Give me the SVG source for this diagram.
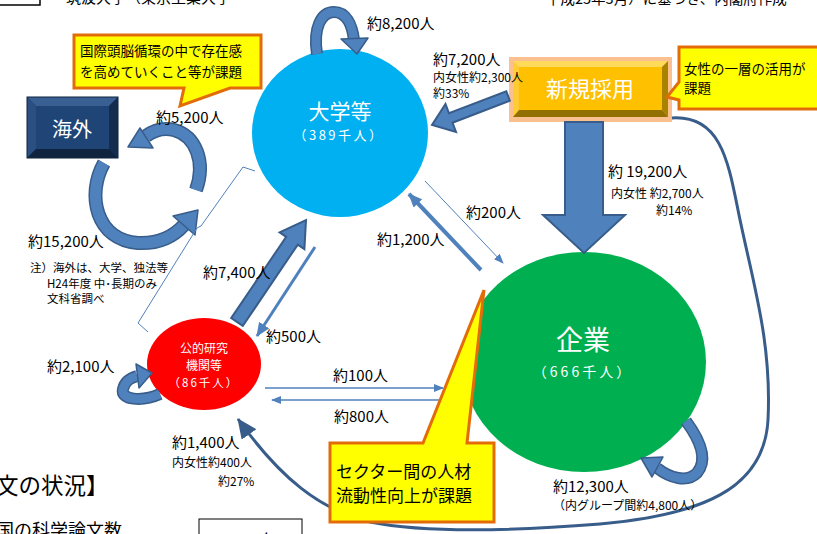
<svg xmlns="http://www.w3.org/2000/svg" width="817" height="534" viewBox="0 0 817 534">
<style>
text{font-family:"Noto Sans CJK JP","Noto Sans",sans-serif;fill:#000}
.lb{font-size:15px}
.sm{font-size:12px}
.nt{font-size:11.5px}
.w{fill:#fff}
.co{fill:#FFFF00;stroke:#E36C09;stroke-width:3}
.ct{font-size:13.5px}
.lo{fill:none;stroke:#385D8A;stroke-width:12}
.li{fill:none;stroke:#4F81BD;stroke-width:9}
.hd{fill:#4F81BD;stroke:#385D8A;stroke-width:1.5;stroke-linejoin:round}
.thin{fill:none;stroke:#4F81BD}
.big{fill:#4F81BD;stroke:#385D8A;stroke-width:2;stroke-linejoin:miter}
</style>
<defs>
<marker id="ahS" markerUnits="userSpaceOnUse" markerWidth="10" markerHeight="8" refX="9" refY="4" orient="auto"><path d="M0,0 L10,4 L0,8 z" fill="#4F81BD"/></marker>
<marker id="ahM" markerUnits="userSpaceOnUse" markerWidth="14" markerHeight="12" refX="13" refY="6" orient="auto"><path d="M0,0 L14,6 L0,12 z" fill="#4F81BD"/></marker>
<marker id="ahL" markerUnits="userSpaceOnUse" markerWidth="20" markerHeight="18" refX="19" refY="9" orient="auto"><path d="M0,0 L20,9 L0,18 z" fill="#385D8A"/></marker>
</defs>

<g id="fragments">
<rect x="-10" y="-20" width="50" height="25" fill="none" stroke="#000" stroke-width="1.5"/>
<text x="66" y="3" style="font-size:15px">筑波大学（東京工業大学</text>
<text x="546" y="4" style="font-size:14.5px">平成25年3月）に基づき、内閣府作成</text>
<text x="-4" y="494" style="font-size:22.5px">文の状況】</text>
<text x="-4" y="537" style="font-size:18px">国の科学論文数</text>
<rect x="199" y="519" width="103" height="40" fill="#fff" stroke="#000" stroke-width="1"/>
<text x="250" y="548" text-anchor="middle" style="font-size:18px">2010年</text>
</g>

<g id="node-univ">
<ellipse cx="340" cy="133" rx="88" ry="84" fill="#00B0F0"/>
<text x="340" y="119" text-anchor="middle" class="w" style="font-size:21px">大学等</text>
<text x="339" y="140" text-anchor="middle" class="w" style="font-size:13px;letter-spacing:2.5px">（389千人）</text>
</g>

<g id="node-company">
<ellipse cx="584" cy="362" rx="122" ry="110" fill="#00B050"/>
<text x="583" y="350" text-anchor="middle" class="w" style="font-size:27px">企業</text>
<text x="583" y="377" text-anchor="middle" class="w" style="font-size:14px;letter-spacing:3px">（666千人）</text>
</g>

<g id="node-public">
<ellipse cx="204" cy="364" rx="57" ry="46" fill="#FF0000"/>
<text x="204" y="353" text-anchor="middle" class="w" style="font-size:12px">公的研究</text>
<text x="204" y="370" text-anchor="middle" class="w" style="font-size:12px">機関等</text>
<text x="204" y="387" text-anchor="middle" class="w" style="font-size:11.5px;letter-spacing:2px">（86千人）</text>
</g>

<g id="node-overseas">
<rect x="27" y="97" width="91" height="61" fill="#17375E"/>
<polygon points="27,97 118,97 109,106 36,106" fill="#3A6093"/>
<polygon points="27,97 36,106 36,149 27,158" fill="#2A4F80"/>
<polygon points="118,97 118,158 109,149 109,106" fill="#142C4E"/>
<polygon points="27,158 36,149 109,149 118,158" fill="#10243F"/>
<rect x="36" y="106" width="73" height="43" fill="#1F4476"/>
<rect x="27" y="97" width="91" height="61" fill="none" stroke="#0F2440" stroke-width="1"/>
<text x="72" y="137" text-anchor="middle" class="w" style="font-size:20px">海外</text>
</g>

<g id="node-newhire">
<rect x="509" y="57" width="163" height="65" fill="#FAC090"/>
<polygon points="513,61 668,61 662,67 519,67" fill="#FFD95A"/>
<polygon points="513,61 519,67 519,110 513,117" fill="#FFCC33"/>
<polygon points="668,61 668,117 662,110 662,67" fill="#A98200"/>
<polygon points="513,117 519,110 662,110 668,117" fill="#927000"/>
<rect x="519" y="67" width="143" height="43" fill="#FFC000"/>
<text x="590" y="97" text-anchor="middle" class="w" style="font-size:22px">新規採用</text>
</g>

<g id="connectors">
<path d="M672,118 C720,115 728,160 738,210 C752,280 772,340 768,420 C764,490 700,515 600,524 C500,532 420,532 370,522 C320,510 280,478 238,419" fill="none" stroke="#385D8A" stroke-width="3" marker-end="url(#ahL)"/>
<polygon class="big" points="509.8,100.7 506.3,91.3 449,113.3 445.5,104 432,125 456,132 452.5,122.7"/>
<polygon class="big" points="565,122 603,122 603,215 625,215 584,253 543,215 565,215"/>
<polygon class="big" points="242.8,325.9 231.2,318.1 286.2,236.8 279.6,232.3 306,220 304.4,249.1 297.8,244.6"/>
<line class="thin" x1="315" y1="247" x2="257" y2="336" stroke-width="3" marker-end="url(#ahM)"/>
<line class="thin" x1="425" y1="181" x2="503" y2="263" stroke-width="1" marker-end="url(#ahS)"/>
<line class="thin" x1="481" y1="270" x2="409" y2="194" stroke-width="4" marker-end="url(#ahM)"/>
<line class="thin" x1="265" y1="388" x2="443" y2="388" stroke-width="1.5" marker-end="url(#ahS)"/>
<line class="thin" x1="443" y1="400" x2="272" y2="400" stroke-width="1.5" marker-end="url(#ahS)"/>
<path class="lo" d="M317,54 C313,28 321,12 334,12 C346,12 352,24 354,40"/>
<path class="li" d="M317,54 C313,28 321,12 334,12 C346,12 352,24 354,40"/>
<polygon class="hd" points="341,39 368,38 357,54"/>
<path class="lo" d="M160,394 C142,402 120,400 123,389 C125,381 130,378 137,376"/>
<path class="li" d="M160,394 C142,402 120,400 123,389 C125,381 130,378 137,376"/>
<polygon class="hd" points="136,364 152,373 139,388"/>
<path class="lo" d="M686,421 C700,440 708,460 697,473 C687,483 670,478 657,468"/>
<path class="li" d="M686,421 C700,440 708,460 697,473 C687,483 670,478 657,468"/>
<polygon class="hd" points="641,458 663,457 652,477"/>
<path class="lo" d="M196,190 C206,162 196,136 174,130 C162,127 153,131 146,136" style="stroke-width:14"/>
<path class="li" d="M196,190 C206,162 196,136 174,130 C162,127 153,131 146,136" style="stroke-width:11"/>
<polygon class="hd" points="153,148 140,128 128,147"/>
<path class="lo" d="M104,163 C86,195 96,240 138,243 C160,244 175,235 184,225" style="stroke-width:14"/>
<path class="li" d="M104,163 C86,195 96,240 138,243 C160,244 175,235 184,225" style="stroke-width:11"/>
<polygon class="hd" points="195,235 173,216 198,210"/>
<polyline points="255,171 243,167 201,226 197,228 138,323 148,332" fill="none" stroke="#4F81BD" stroke-width="1"/>
</g>

<g id="labels">
<text x="367" y="29" class="lb">約8,200人</text>
<text x="433" y="65" class="lb">約7,200人</text>
<text x="433" y="82" class="sm">内女性約2,300人</text>
<text x="433" y="98" class="sm">約33%</text>
<text x="156" y="123" class="lb">約5,200人</text>
<text x="28" y="247" class="lb">約15,200人</text>
<text x="30" y="272" class="nt">注）海外は、大学、独法等</text>
<text x="47" y="288" class="nt">H24年度  中･長期のみ</text>
<text x="47" y="303" class="nt">文科省調べ</text>
<text x="203" y="278" class="lb">約7,400人</text>
<text x="266" y="342" class="lb">約500人</text>
<text x="47" y="372" class="lb">約2,100人</text>
<text x="333" y="381" class="lb">約100人</text>
<text x="334" y="422" class="lb">約800人</text>
<text x="172" y="448" class="lb">約1,400人</text>
<text x="172" y="467" class="sm">内女性約400人</text>
<text x="218" y="486" class="sm">約27%</text>
<text x="553" y="492" class="lb">約12,300人</text>
<text x="553" y="510" class="sm">（内グループ間約4,800人）</text>
<text x="608" y="177" class="lb">約 19,200人</text>
<text x="611" y="198" class="sm">内女性 約2,700人</text>
<text x="656" y="215" class="sm">約14%</text>
<text x="466" y="218" class="lb">約200人</text>
<text x="377" y="245" class="lb">約1,200人</text>
</g>

<g id="callouts">
<path class="co" d="M74,35 H261 V88 H230 L180,106 L184,88 H74 Z"/>
<text x="80" y="56" class="ct">国際頭脳循環の中で存在感</text>
<text x="80" y="77" class="ct">を高めていくこと等が課題</text>
<path class="co" d="M679,47 H830 V109 H679 V100 L667,97 L679,82 Z"/>
<text x="684" y="74" style="font-size:13.5px">女性の一層の活用が</text>
<text x="684" y="93" style="font-size:13.5px">課題</text>
<path class="co" d="M330,443 H423 L484,290 L467,443 H494 V522 H330 Z"/>
<text x="336" y="478" style="font-size:17px">セクター間の人材</text>
<text x="336" y="502" style="font-size:17px">流動性向上が課題</text>
</g>
</svg>
